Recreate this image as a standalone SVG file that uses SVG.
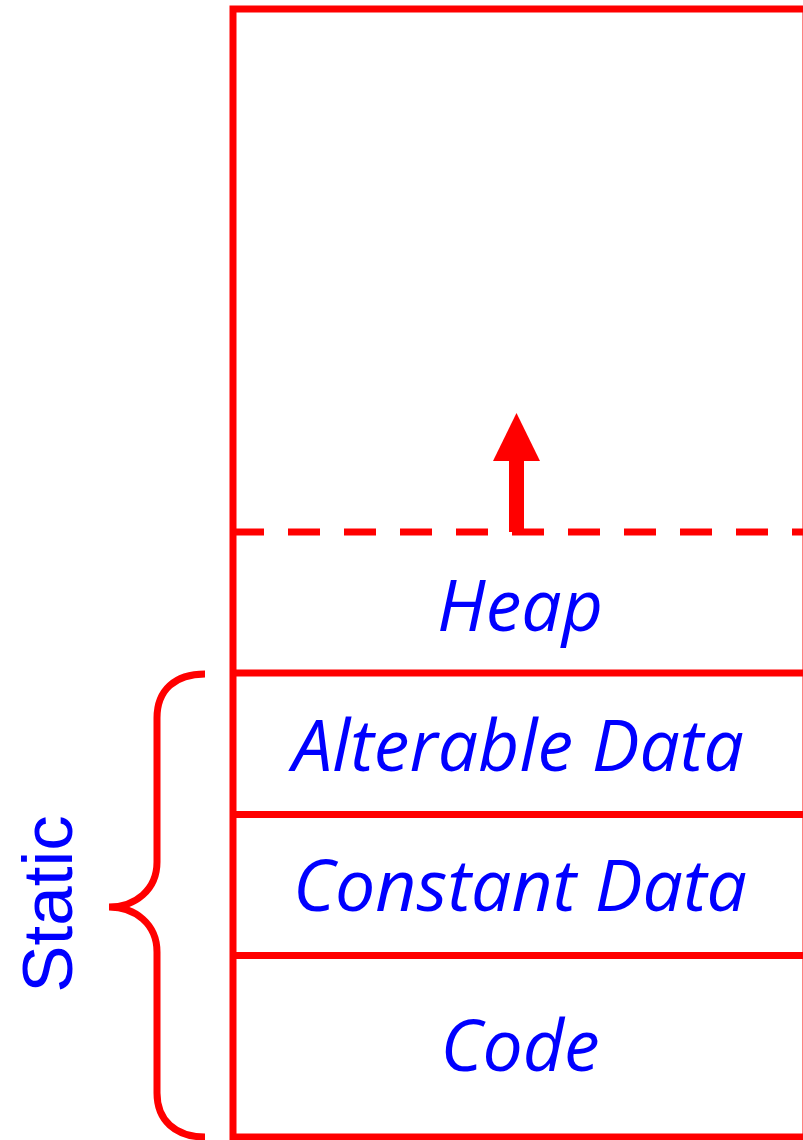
<svg xmlns="http://www.w3.org/2000/svg" width="803" height="1140" viewBox="0 0 803 1140">
  <style>
    .frame { fill: none; stroke: #ff0000; stroke-width: 7; }
    .divider { stroke: #ff0000; stroke-width: 7; fill: none; }
    .limit { stroke: #ff0000; stroke-width: 7; stroke-dasharray: 32 24; fill: none; }
    .seg { font-family: "Open Sans", "Noto Sans", "DejaVu Sans", sans-serif; font-style: italic; font-size: 71.5px; fill: #0000ff; text-anchor: middle; }
    .side { font-family: "Liberation Sans", Arial, sans-serif; font-size: 71px; fill: #0000ff; text-anchor: middle; }
  </style>

  <!-- memory block outline -->
  <g id="memory">
    <rect class="frame" x="233" y="9" width="573" height="1128"/>
  </g>

  <g id="heap">
    <line class="limit" x1="232" y1="532" x2="806" y2="532"/>
    <text class="seg" x="520" y="631">Heap</text>
  </g>

  <g id="alterable-data">
    <line class="divider" x1="233" y1="673" x2="806" y2="673"/>
    <text class="seg" x="518" y="771">Alterable Data</text>
  </g>

  <g id="constant-data">
    <line class="divider" x1="233" y1="814.5" x2="806" y2="814.5"/>
    <text class="seg" x="520" y="911">Constant Data</text>
  </g>

  <g id="code">
    <line class="divider" x1="233" y1="955.5" x2="806" y2="955.5"/>
    <text class="seg" x="520" y="1071">Code</text>
  </g>

  <!-- static region brace and label -->
  <g id="static">
    <path class="frame" d="M205,674 C175,674 157,690 157,718 L157,862 C157,890 135,907 109,907 C135,907 157,924 157,952 L157,1093 C157,1120 175,1137 205,1137"/>
    <text class="side" transform="translate(72,904) rotate(-90)" x="0" y="0">Static</text>
  </g>

  <!-- heap growth direction -->
  <g id="connectors">
    <line x1="516.5" y1="532" x2="516.5" y2="455" stroke="#ff0000" stroke-width="15"/>
    <polygon points="516.5,413 493,461 540,461" fill="#ff0000"/>
  </g>
</svg>
